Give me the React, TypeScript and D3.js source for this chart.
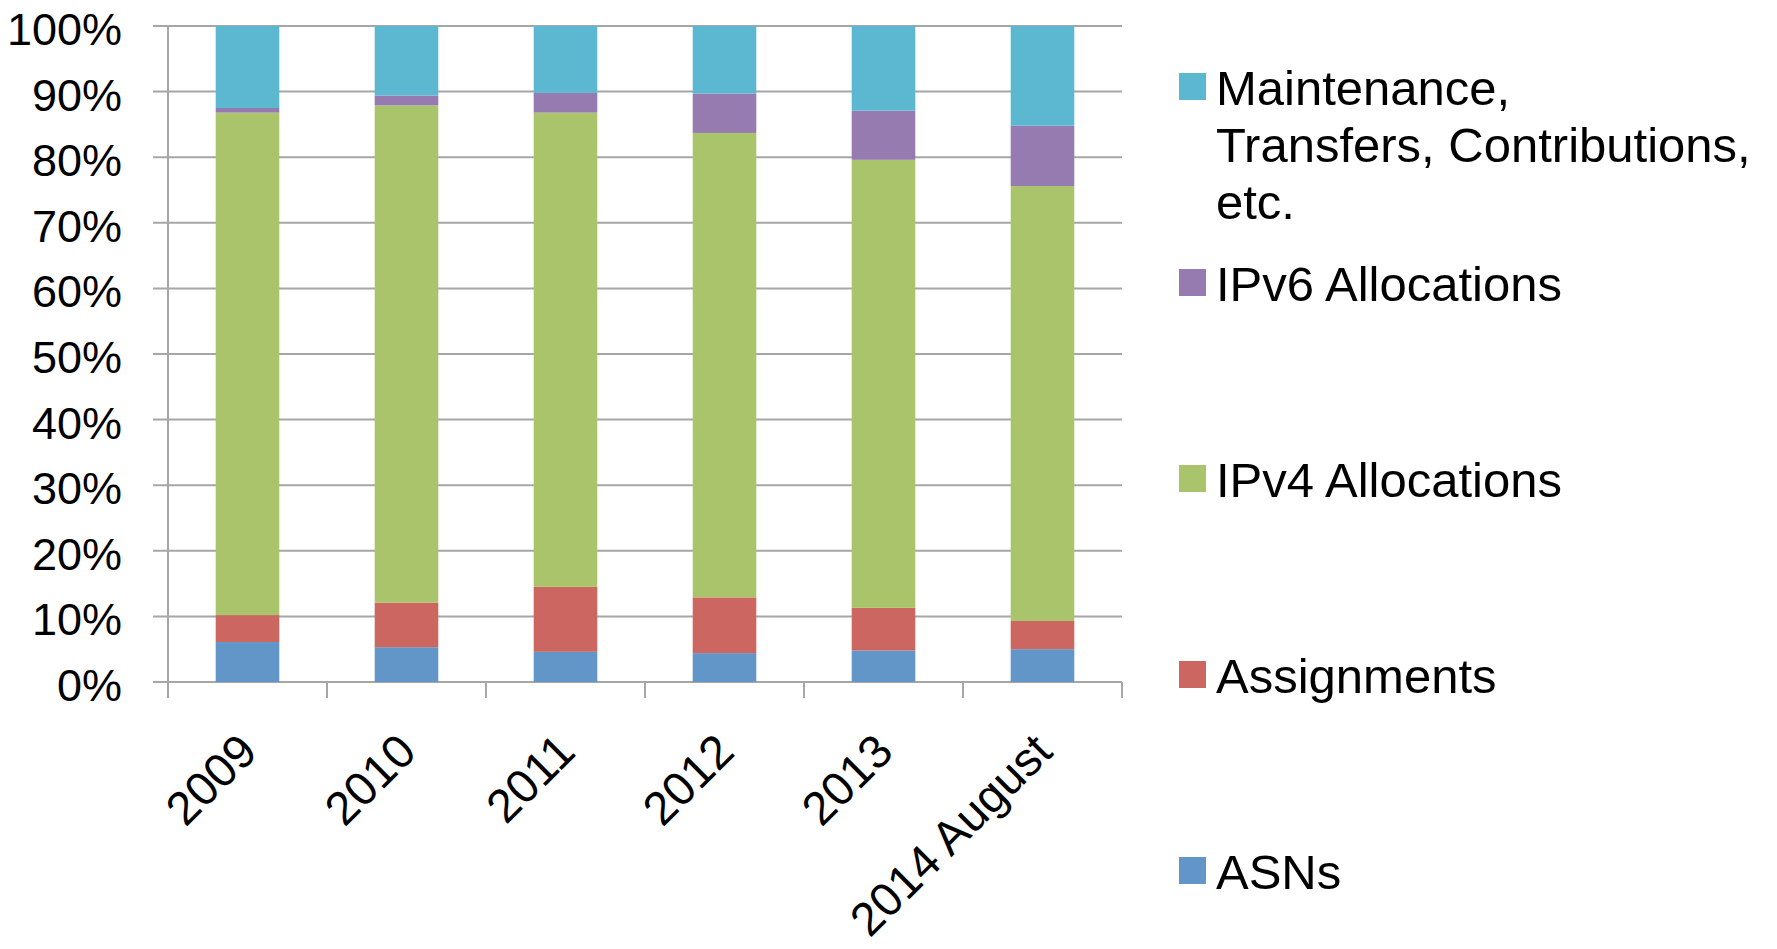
import { useEffect, useRef } from "react";
import * as d3 from "d3";

const years = ["2009", "2010", "2011", "2012", "2013", "2014 August"];

// shares in percent
const asns = [6.1, 5.3, 4.6, 4.4, 4.8, 5.0];
const assignments = [4.1, 6.8, 9.9, 8.5, 6.5, 4.3];
const ipv4 = [76.6, 75.8, 72.3, 70.8, 68.3, 66.3];
const ipv6 = [0.7, 1.5, 3.0, 6.0, 7.5, 9.2];
const maintenance = [12.5, 10.6, 10.2, 10.3, 12.9, 15.2];

const seriesNames = ["ASNs", "Assignments", "IPv4 Allocations", "IPv6 Allocations", "Maintenance"];
const seriesColors = ["#6296c9", "#cc6660", "#a9c46b", "#957bb0", "#5bb8d0"];
const legendLines = [
  ["ASNs"],
  ["Assignments"],
  ["IPv4 Allocations"],
  ["IPv6 Allocations"],
  ["Maintenance,", "Transfers, Contributions,", "etc."],
];
const yTicks = [0, 0.1, 0.2, 0.3, 0.4, 0.5, 0.6, 0.7, 0.8, 0.9, 1];

export default function App() {
  const ref = useRef<SVGSVGElement | null>(null);

  const width = 1777;
  const height = 949;
  const plot = { left: 168, right: 1122, top: 26, bottom: 682 };
  const font = "'Liberation Sans', Arial, sans-serif";

  useEffect(() => {
    const svg = d3.select(ref.current);
    svg.selectAll("*").remove();

    const rows = years.map((year, i) => ({
      year,
      ASNs: asns[i],
      Assignments: assignments[i],
      "IPv4 Allocations": ipv4[i],
      "IPv6 Allocations": ipv6[i],
      Maintenance: maintenance[i],
    }));

    const stacked = d3
      .stack<any>()
      .keys(seriesNames)
      .offset(d3.stackOffsetExpand)(rows);

    const x = d3
      .scaleBand()
      .domain(years)
      .range([plot.left, plot.right])
      .paddingInner(0.6)
      .paddingOuter(0.3);

    const y = d3.scaleLinear().domain([0, 1]).range([plot.bottom, plot.top]);
    const color = d3.scaleOrdinal<string>().domain(seriesNames).range(seriesColors);

    const grid = "#a6a6a6";

    // horizontal gridlines with small outside ticks
    svg
      .append("g")
      .selectAll("line")
      .data(yTicks)
      .join("line")
      .attr("x1", plot.left - 15)
      .attr("x2", plot.right)
      .attr("y1", (d) => y(d))
      .attr("y2", (d) => y(d))
      .attr("stroke", grid)
      .attr("stroke-width", 2);

    // y tick labels
    svg
      .append("g")
      .selectAll("text")
      .data(yTicks)
      .join("text")
      .attr("x", 122)
      .attr("y", (d) => y(d) + 19)
      .attr("text-anchor", "end")
      .style("font-family", font)
      .style("font-size", "45px")
      .text((d) => d3.format(".0%")(d));

    // stacked bars
    svg
      .append("g")
      .selectAll("g")
      .data(stacked)
      .join("g")
      .attr("fill", (d) => color(d.key))
      .selectAll("rect")
      .data((d) => d)
      .join("rect")
      .attr("x", (d: any) => x(d.data.year)!)
      .attr("width", x.bandwidth())
      .attr("y", (d) => y(d[1]))
      .attr("height", (d) => y(d[0]) - y(d[1]));

    // y axis line and category ticks
    const step = x.step();
    const tickXs = d3.range(years.length + 1).map((i) => plot.left + i * step);
    svg
      .append("line")
      .attr("x1", plot.left)
      .attr("x2", plot.left)
      .attr("y1", plot.top)
      .attr("y2", plot.bottom + 16)
      .attr("stroke", grid)
      .attr("stroke-width", 2);
    svg
      .append("g")
      .selectAll("line")
      .data(tickXs)
      .join("line")
      .attr("x1", (d) => d)
      .attr("x2", (d) => d)
      .attr("y1", plot.bottom)
      .attr("y2", plot.bottom + 16)
      .attr("stroke", grid)
      .attr("stroke-width", 2);

    // rotated category labels
    svg
      .append("g")
      .selectAll("text")
      .data(years)
      .join("text")
      .attr("transform", (d) => {
        const cx = x(d)! + x.bandwidth() / 2 + 12;
        return `translate(${cx}, ${plot.bottom + 72}) rotate(-45)`;
      })
      .attr("text-anchor", "end")
      .style("font-family", font)
      .style("font-size", "47px")
      .text((d) => d);

    // legend, top entry is the last series
    const legend = svg.append("g");
    const order = d3.range(seriesNames.length).reverse();
    order.forEach((si, row) => {
      const base = 105 + row * 196;
      legend
        .append("rect")
        .attr("x", 1179)
        .attr("y", base - 32)
        .attr("width", 27)
        .attr("height", 27)
        .attr("fill", seriesColors[si]);
      const t = legend
        .append("text")
        .attr("x", 1216)
        .attr("y", base)
        .style("font-family", font)
        .style("font-size", "49px");
      legendLines[si].forEach((line, li) => {
        t.append("tspan")
          .attr("x", 1216)
          .attr("dy", li === 0 ? 0 : 57)
          .text(line);
      });
    });
  }, []);

  return (
    <svg
      ref={ref}
      width={width}
      height={height}
      style={{ position: "absolute", left: 0, top: 0, background: "#fff" }}
    />
  );
}
